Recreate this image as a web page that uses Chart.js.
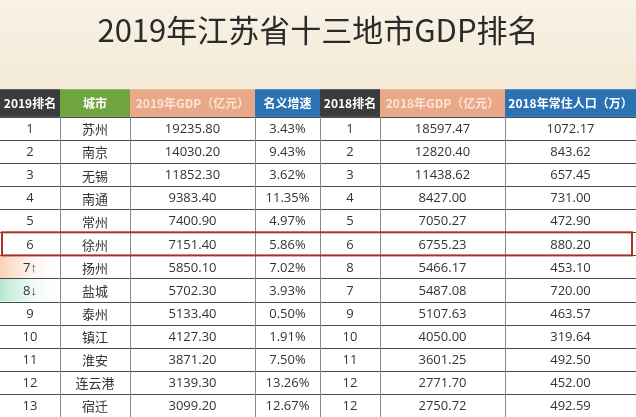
<!DOCTYPE html>
<html>
<head>
<meta charset="utf-8">
<script src="https://cdn.jsdelivr.net/npm/chart.js@4"></script>
<style>
  html, body { margin: 0; padding: 0; background: #fff; }
  #wrap { width: 636px; height: 417px; }
</style>
</head>
<body>
<div id="wrap"><canvas id="gdp"></canvas></div>
<script>
// 2019 江苏十三地市 GDP
const headers = ['2019排名', '城市', '2019年GDP（亿元）', '名义增速', '2018排名', '2018年GDP（亿元）', '2018年常住人口（万）'];
const rank2019 = ['1', '2', '3', '4', '5', '6', '7↑', '8↓', '9', '10', '11', '12', '13'];
const cities = ['苏州', '南京', '无锡', '南通', '常州', '徐州', '扬州', '盐城', '泰州', '镇江', '淮安', '连云港', '宿迁'];
const gdp2019 = ['19235.80', '14030.20', '11852.30', '9383.40', '7400.90', '7151.40', '5850.10', '5702.30', '5133.40', '4127.30', '3871.20', '3139.30', '3099.20'];
const growth = ['3.43%', '9.43%', '3.62%', '11.35%', '4.97%', '5.86%', '7.02%', '3.93%', '0.50%', '1.91%', '7.50%', '13.26%', '12.67%'];
const rank2018 = ['1', '2', '3', '4', '5', '6', '8', '7', '9', '10', '11', '12', '12'];
const gdp2018 = ['18597.47', '12820.40', '11438.62', '8427.00', '7050.27', '6755.23', '5466.17', '5487.08', '5107.63', '4050.00', '3601.25', '2771.70', '2750.72'];
const pop2018 = ['1072.17', '843.62', '657.45', '731.00', '472.90', '880.20', '453.10', '720.00', '463.57', '319.64', '492.50', '452.00', '492.59'];

// column edges (x scale units) and header colours
const colEdges = [0, 60, 130, 255, 320, 380, 505, 636];
const headColors = ['#3b3b3b', '#6fa53f', '#e9a888', '#2b72b5', '#3b3b3b', '#e9a888', '#2b72b5'];
const headText = ['#fff', '#fff', '#fbe3d6', '#fff', '#fff', '#fbe3d6', '#fff'];
const columns = [rank2019, cities, gdp2019, growth, rank2018, gdp2018, pop2018];
const headTop = -1.2;

const tablePlugin = {
  id: 'table',
  beforeDraw(chart) {
    const c = chart.ctx;
    const g = c.createLinearGradient(0, 0, 0, chart.chartArea.top);
    g.addColorStop(0, '#f8f2e6');
    g.addColorStop(1, '#f3e9d6');
    c.save();
    c.fillStyle = g;
    c.fillRect(0, 0, chart.width, chart.chartArea.top);
    c.restore();
  },
  afterDraw(chart) {
    const c = chart.ctx;
    const xs = chart.scales.x, ys = chart.scales.y;
    const X = v => xs.getPixelForValue(v);
    const Y = v => ys.getPixelForValue(v);
    c.save();
    // header
    for (let j = 0; j < headers.length; j++) {
      const x0 = X(colEdges[j]), x1 = X(colEdges[j + 1]);
      c.fillStyle = headColors[j];
      c.fillRect(x0, Y(headTop), x1 - x0, Y(0) - Y(headTop));
      c.fillStyle = headText[j];
      c.font = 'bold 12px "Noto Sans CJK SC"';
      c.textAlign = 'center';
      c.textBaseline = 'middle';
      c.fillText(headers[j], (x0 + x1) / 2, (Y(headTop) + Y(0)) / 2, x1 - x0 - 2);
    }
    // rank change tints
    const tint = (row, col) => {
      const gr = c.createLinearGradient(X(colEdges[0]), 0, X(colEdges[1]), 0);
      gr.addColorStop(0, col);
      gr.addColorStop(1, 'rgba(255,255,255,0.1)');
      c.fillStyle = gr;
      c.fillRect(X(colEdges[0]), Y(row), X(colEdges[1]) - X(colEdges[0]), Y(row + 1) - Y(row));
    };
    tint(6, 'rgba(246,190,150,0.7)');
    tint(7, 'rgba(150,220,190,0.7)');
    // body text
    for (let i = 0; i < cities.length; i++) {
      for (let j = 0; j < columns.length; j++) {
        const x0 = X(colEdges[j]), x1 = X(colEdges[j + 1]);
        c.fillStyle = '#333';
        c.font = j === 1 ? '13px "Noto Sans CJK SC"' : '13px "Open Sans"';
        c.textAlign = 'center';
        c.textBaseline = 'middle';
        c.fillText(columns[j][i], (x0 + x1) / 2, (Y(i) + Y(i + 1)) / 2 + 1);
      }
    }
    // grid
    c.strokeStyle = '#4a4a4a';
    c.lineWidth = 1;
    for (let i = 0; i <= cities.length; i++) {
      c.beginPath();
      c.moveTo(X(0), Math.round(Y(i)) + 0.5);
      c.lineTo(X(colEdges[colEdges.length - 1]), Math.round(Y(i)) + 0.5);
      c.stroke();
    }
    c.strokeStyle = '#8a8a8a';
    for (let j = 1; j < colEdges.length - 1; j++) {
      c.beginPath();
      c.moveTo(Math.round(X(colEdges[j])) + 0.5, Y(0));
      c.lineTo(Math.round(X(colEdges[j])) + 0.5, Y(cities.length));
      c.stroke();
    }
    // highlight 徐州
    c.strokeStyle = '#a8322a';
    c.lineWidth = 2;
    c.strokeRect(X(0) + 2, Y(5), X(colEdges[colEdges.length - 1]) - X(0) - 6, Y(6) - Y(5));
    c.restore();
  }
};

new Chart(document.getElementById('gdp').getContext('2d'), {
  type: 'scatter',
  data: { datasets: [{ data: [] }] },
  options: {
    responsive: true,
    maintainAspectRatio: false,
    animation: false,
    layout: { padding: 0 },
    scales: {
      x: { type: 'linear', display: false, min: 0, max: colEdges[colEdges.length - 1] },
      y: { type: 'linear', display: false, min: headTop, max: cities.length, reverse: true }
    },
    plugins: {
      legend: false,
      tooltip: { enabled: false },
      title: {
        display: true,
        text: '2019年江苏省十三地市GDP排名',
        color: '#2a2a2a',
        font: { family: '"Noto Sans CJK SC"', size: 31, weight: 'normal' },
        padding: { top: 12, bottom: 40 }
      }
    }
  },
  plugins: [tablePlugin]
});
</script>
</body>
</html>
